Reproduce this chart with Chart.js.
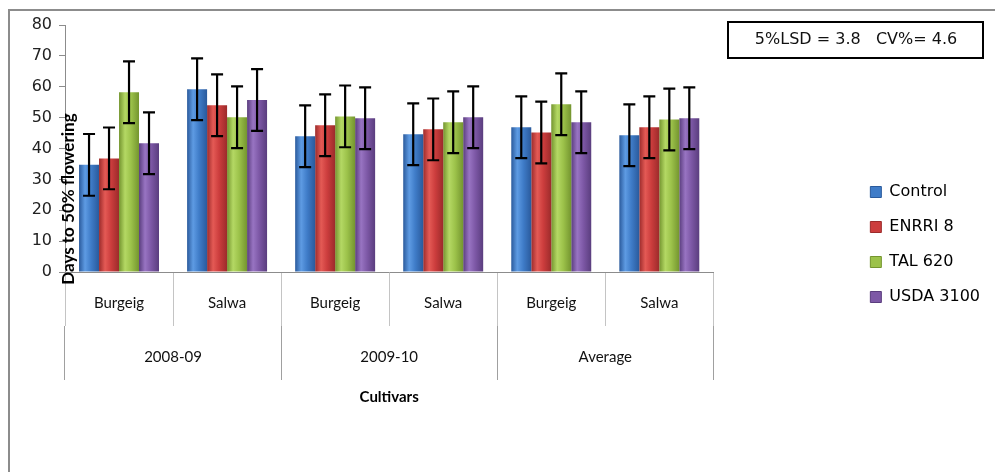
<!DOCTYPE html>
<html>
<head>
<meta charset="utf-8">
<script src="https://cdn.jsdelivr.net/npm/chart.js@4.4.1/dist/chart.umd.min.js"></script>
<style>
  html, body { margin: 0; padding: 0; background: #fff; }
  #wrap { width: 995px; height: 472px; position: relative; }
</style>
</head>
<body>
<div id="wrap"><canvas id="chart"></canvas></div>
<script>
// categories
const cultivars = ['Burgeig', 'Salwa', 'Burgeig', 'Salwa', 'Burgeig', 'Salwa'];
const seasons = ['2008-09', '2009-10', 'Average'];
const seriesNames = ['Control', 'ENRRI 8', 'TAL 620', 'USDA 3100'];

// days to 50% flowering
const control  = [34.7, 59.2, 44.0, 44.6, 46.9, 44.3];
const enrri8   = [36.8, 54.0, 47.5, 46.2, 45.2, 46.9];
const tal620   = [58.2, 50.1, 50.4, 48.5, 54.3, 49.4];
const usda3100 = [41.7, 55.7, 49.8, 50.1, 48.5, 49.8];
const errorSize = 10;

const yMin = 0, yMax = 80, yStep = 10;
const noteText = '5%LSD = 3.8   CV%= 4.6';

// base, light, dark
const palette = [
    ['#3f7cc8', '#5e9be3', '#2a5a9c'],
    ['#cc3d3d', '#e45a55', '#9c2b2b'],
    ['#9cc24a', '#b4d864', '#74952f'],
    ['#7d58a6', '#9874c2', '#5a3d7e']
];

function barFill(i) {
    const [base, light, dark] = palette[i];
    return (ctx) => {
        const chart = ctx.chart;
        const meta = chart.getDatasetMeta(ctx.datasetIndex);
        const el = meta.data[ctx.dataIndex];
        if (!el || !isFinite(el.x) || !isFinite(el.width)) return base;
        const g = chart.ctx.createLinearGradient(el.x - el.width / 2, 0, el.x + el.width / 2, 0);
        g.addColorStop(0, dark);
        g.addColorStop(0.3, light);
        g.addColorStop(0.6, base);
        g.addColorStop(1, dark);
        return g;
    };
}

const seriesData = [control, enrri8, tal620, usda3100];

const errorBars = {
    id: 'errorBars',
    afterDatasetsDraw(chart) {
        const ctx = chart.ctx;
        const y = chart.scales.y;
        ctx.save();
        ctx.strokeStyle = '#000';
        ctx.lineWidth = 2.2;
        chart.data.datasets.forEach((ds, i) => {
            chart.getDatasetMeta(i).data.forEach((bar, j) => {
                const v = ds.data[j];
                const top = y.getPixelForValue(v + errorSize);
                const bot = y.getPixelForValue(v - errorSize);
                ctx.beginPath();
                ctx.moveTo(bar.x, top); ctx.lineTo(bar.x, bot);
                ctx.moveTo(bar.x - 6, top); ctx.lineTo(bar.x + 6, top);
                ctx.moveTo(bar.x - 6, bot); ctx.lineTo(bar.x + 6, bot);
                ctx.stroke();
            });
        });
        ctx.restore();
    }
};

// frame, LSD note, and the y title that sits over the bars
const extras = {
    id: 'extras',
    afterDraw(chart) {
        const ctx = chart.ctx;
        ctx.save();
        ctx.strokeStyle = '#8c8c8c';
        ctx.lineWidth = 2;
        ctx.beginPath();
        ctx.moveTo(9, 472); ctx.lineTo(9, 10); ctx.lineTo(995, 10);
        ctx.stroke();

        ctx.strokeStyle = '#000';
        ctx.lineWidth = 2;
        ctx.strokeRect(728, 22, 255, 36);
        ctx.fillStyle = '#111';
        ctx.font = '16px "DejaVu Sans"';
        ctx.textAlign = 'center';
        ctx.textBaseline = 'middle';
        ctx.fillText(noteText, 856, 40);

        ctx.translate(69, 199);
        ctx.rotate(-Math.PI / 2);
        ctx.font = 'bold 17px Lato';
        ctx.fillStyle = '#000';
        ctx.fillText('Days to 50% flowering', 0, 0);
        ctx.restore();
    }
};

const chart = new Chart(document.getElementById('chart'), {
    type: 'bar',
    data: {
        labels: cultivars,
        datasets: seriesNames.map((name, i) => ({
            label: name,
            data: seriesData[i],
            backgroundColor: barFill(i),
            borderWidth: 0,
            categoryPercentage: 0.74,
            barPercentage: 1
        }))
    },
    options: {
        responsive: true,
        maintainAspectRatio: false,
        animation: false,
        layout: { padding: { left: 9, top: 25, right: 5, bottom: 8 } },
        scales: {
            y: {
                min: yMin,
                max: yMax,
                ticks: { stepSize: yStep, color: '#222', font: { family: 'DejaVu Sans', size: 16 }, padding: 7 },
                grid: { drawOnChartArea: false, tickLength: 6, color: '#8c8c8c' },
                border: { color: '#8c8c8c' },
                afterFit: (s) => { s.width = 56; }
            },
            x: {
                position: 'bottom',
                ticks: { color: '#111', font: { family: 'Lato', size: 15 }, padding: -32, maxRotation: 0, autoSkip: false },
                grid: { offset: true, drawOnChartArea: false, tickLength: 54, color: '#c4c4c4' },
                border: { color: '#8c8c8c' },
                afterFit: (s) => { s.height = 54; }
            },
            x2: {
                type: 'category',
                labels: seasons,
                position: 'bottom',
                ticks: { color: '#111', font: { family: 'Lato', size: 15 }, padding: -32, maxRotation: 0, autoSkip: false },
                grid: { offset: true, drawOnChartArea: false, tickLength: 54, color: '#a0a0a0' },
                border: { display: false },
                title: { display: true, text: 'Cultivars', color: '#000', font: { family: 'Lato', size: 15, weight: 'bold' }, padding: { top: 0, bottom: 58 } },
                afterFit: (s) => { s.height = 138; }
            },
            sp: {
                type: 'linear',
                position: 'right',
                ticks: { display: false },
                grid: { display: false },
                border: { display: false },
                afterFit: (s) => { s.width = 138; }
            }
        },
        plugins: {
            legend: {
                position: 'right',
                labels: {
                    boxWidth: 11,
                    boxHeight: 11,
                    padding: 19,
                    color: '#222',
                    font: { family: 'DejaVu Sans', size: 16 },
                    generateLabels: () => seriesNames.map((name, i) => ({
                        text: name,
                        fillStyle: palette[i][0],
                        strokeStyle: palette[i][2],
                        lineWidth: 1,
                        datasetIndex: i
                    }))
                }
            },
            tooltip: { enabled: false }
        }
    },
    plugins: [errorBars, extras]
});
// second pass so the bar gradients can use the laid-out bar positions
chart.update('none');
</script>
</body>
</html>
